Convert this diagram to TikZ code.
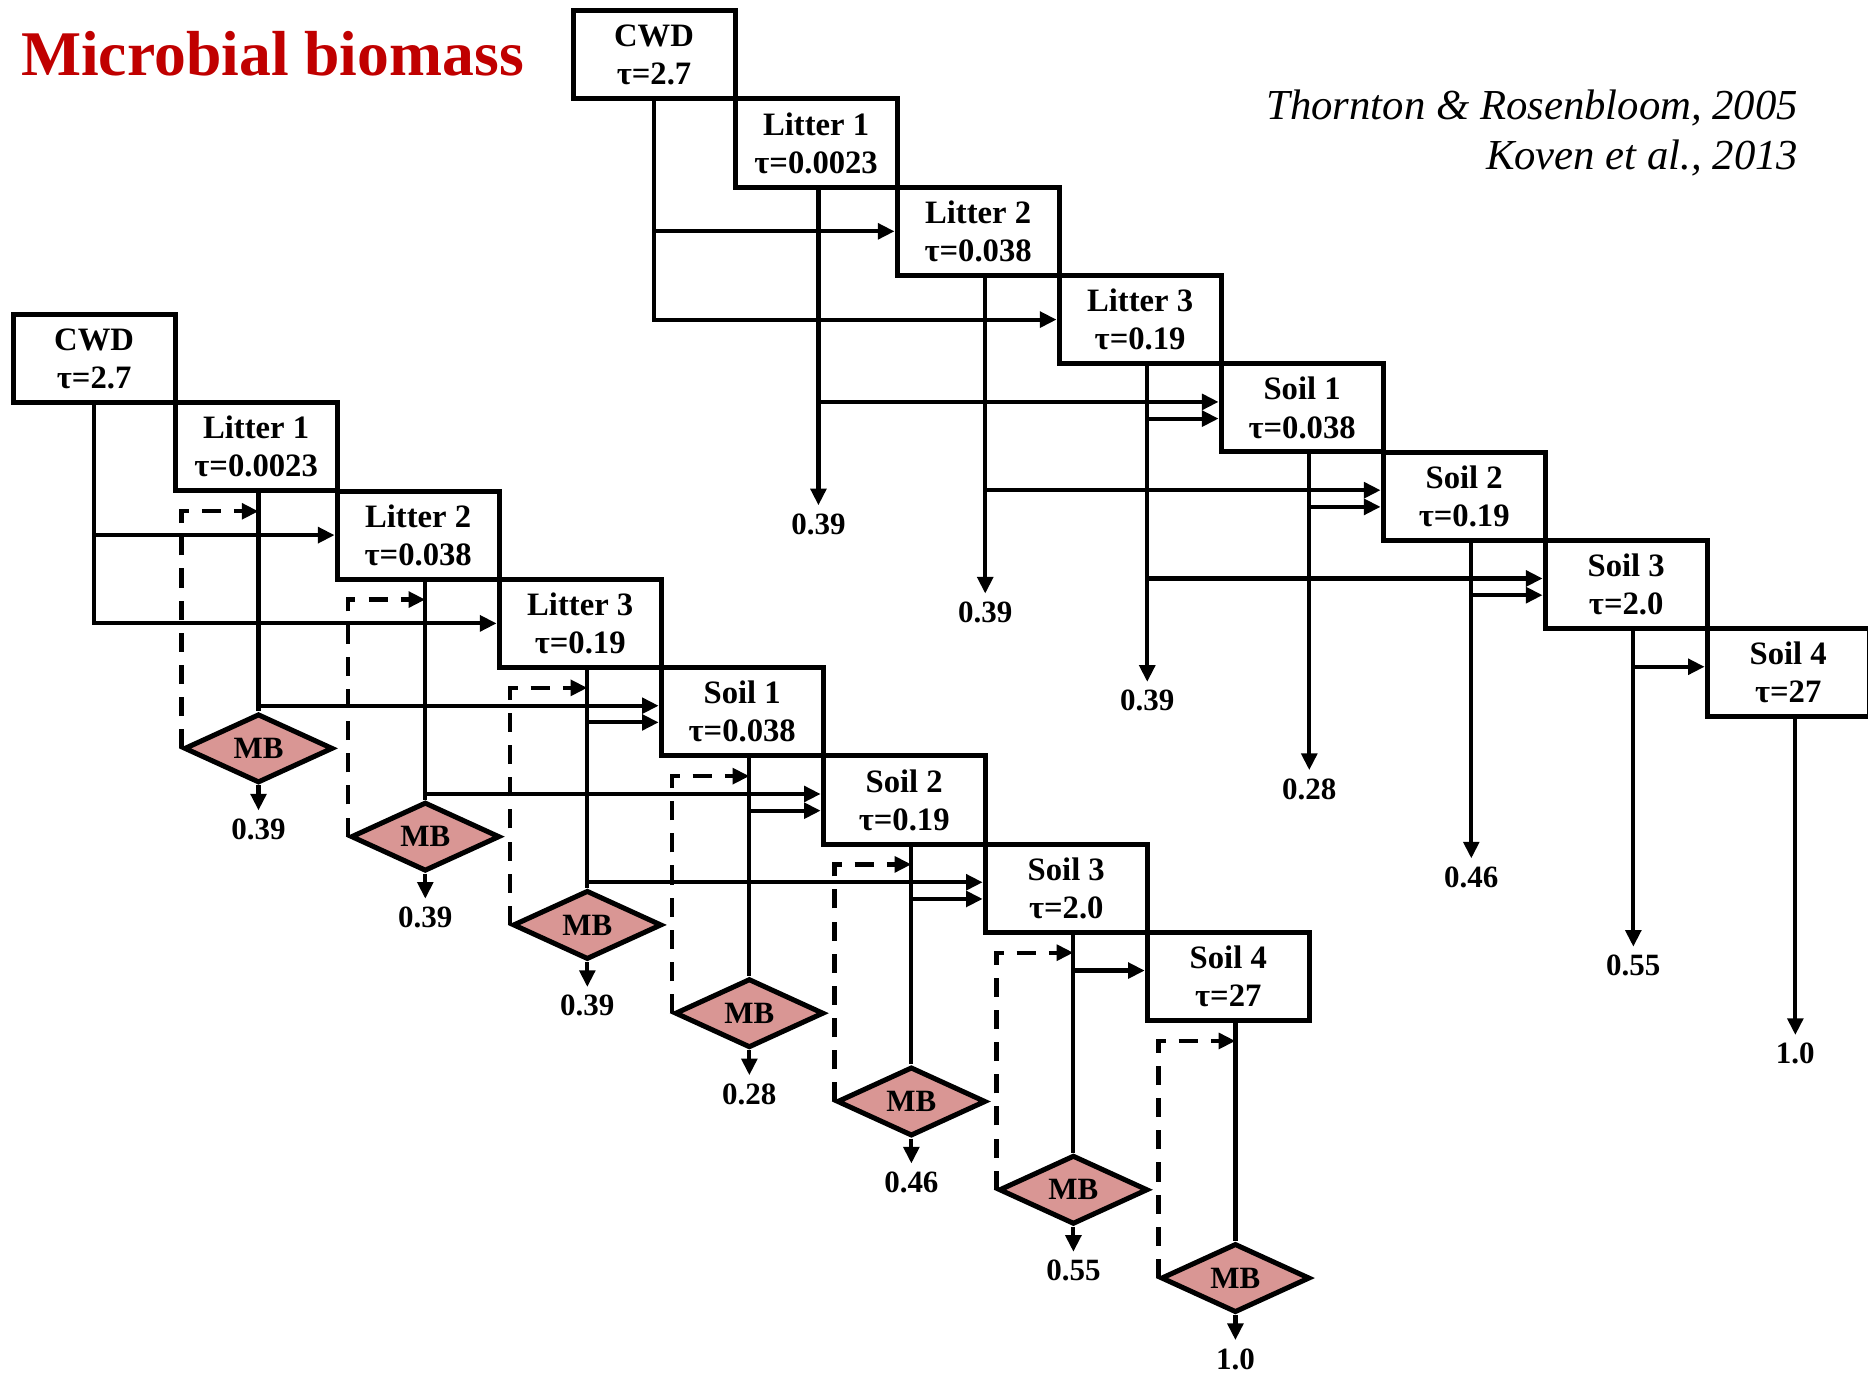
\documentclass[tikz,border=0pt]{standalone}
\usepackage{fontspec}
\setmainfont{Liberation Serif}
\usepackage{xcolor}
\usetikzlibrary{shapes.geometric,arrows.meta,calc}
\definecolor{mbred}{RGB}{192,0,0}
\definecolor{mbpink}{RGB}{217,150,148}

\begin{document}
\begin{tikzpicture}[
  line width=1pt,
  pool/.style={draw, line width=1.2pt, fill=white, minimum width=13.6mm,
               minimum height=7.4mm, inner sep=0pt, align=center,
               font=\fontsize{7.8}{9.1}\selectfont\bfseries},
  mb/.style={diamond, draw, line width=1.2pt, fill=mbpink, aspect=2,
             minimum width=12.5mm, minimum height=5.8mm, inner sep=0pt,
             font=\fontsize{7.4}{8}\selectfont\bfseries},
  outflow/.style={font=\fontsize{7.4}{8}\selectfont\bfseries, anchor=north, inner sep=1.5pt},
  arr/.style={-{Triangle[length=1.4mm,width=1.3mm]}, line width=1pt},
  back/.style={arr, dash pattern=on 1.6mm off 1.1mm}
]
\useasboundingbox (0,0) rectangle (15.68,11.53);

% --- title and references ---
\node[font=\fontsize{15.2}{18}\selectfont\bfseries, text=mbred, anchor=base west, inner sep=0pt]
  (title) at (0.16,10.895) {Microbial biomass};
\node[font=\fontsize{10.2}{12}\selectfont\itshape, anchor=base east, inner sep=0pt]
  (cite1) at (15.11,10.53) {Thornton \& Rosenbloom, 2005};
\node[font=\fontsize{10.2}{12}\selectfont\itshape, anchor=base east, inner sep=0pt]
  (cite2) at (15.11,10.11) {Koven et al., 2013};

% --- two staircases of pools: u = without, l = with microbial biomass ---
\foreach \n/\t [count=\i from 0] in {CWD/2.7, Litter 1/0.0023, Litter 2/0.038, Litter 3/0.19,
                                     Soil 1/0.038, Soil 2/0.19, Soil 3/2.0, Soil 4/27} {
  \node[pool] (u\i) at ({5.49+1.36*\i},{11.07-0.741*\i}) {\n\\τ=\t};
  \node[pool] (l\i) at ({0.79+1.36*\i},{8.52-0.741*\i}) {\n\\τ=\t};
}

% drop points under each pool (a bit right of centre)
\foreach \c in {u,l} {
  \coordinate (d\c0) at (\c0.south);
  \coordinate (d\c1) at ($(\c1.south)+(0.02,0)$);
  \foreach \i in {2,...,7}
    \coordinate (d\c\i) at ($(\c\i.south)+(0.06,0)$);
}

% transfers between pools (same in both)
\foreach \c in {u,l} {
  \draw[arr] (d\c0 |- \c2.west) -- (\c2.west);
  \draw[arr] (d\c0) |- (\c3.west);
  \foreach \s in {4,5,6,7} {
    \coordinate (hi\c\s) at ($(\c\s.west)+(0,0.05)$);
    \coordinate (lo\c\s) at ($(\c\s.west)+(0,-0.09)$);
  }
  \foreach \s/\a/\b in {4/1/3, 5/2/4, 6/3/5} {
    \draw[arr] (d\c\a |- hi\c\s) -- (hi\c\s);
    \draw[arr] (d\c\b |- lo\c\s) -- (lo\c\s);
  }
  \draw[arr] (d\c6 |- hi\c7) -- (hi\c7);
}

% respired fractions, upper staircase
\foreach \i/\v in {1/0.39, 2/0.39, 3/0.39, 4/0.28, 5/0.46, 6/0.55, 7/1.0}
  \draw[arr] (du\i) -- ++(0,-2.65) node[outflow] (uo\i) {\v};

% microbial biomass step, lower staircase
\foreach \i/\v in {1/0.39, 2/0.39, 3/0.39, 4/0.28, 5/0.46, 6/0.55, 7/1.0} {
  \node[mb] (m\i) at ($(dl\i)+(0,-2.14)$) {MB};
  \draw (dl\i) -- (m\i.north);
  \draw[arr] (m\i.south) -- ++(0,-0.21) node[outflow] (lo\i) {\v};
  \draw[back] (m\i.west) |- ($(dl\i)+(0,-0.15)$);
}

\end{tikzpicture}
\end{document}
